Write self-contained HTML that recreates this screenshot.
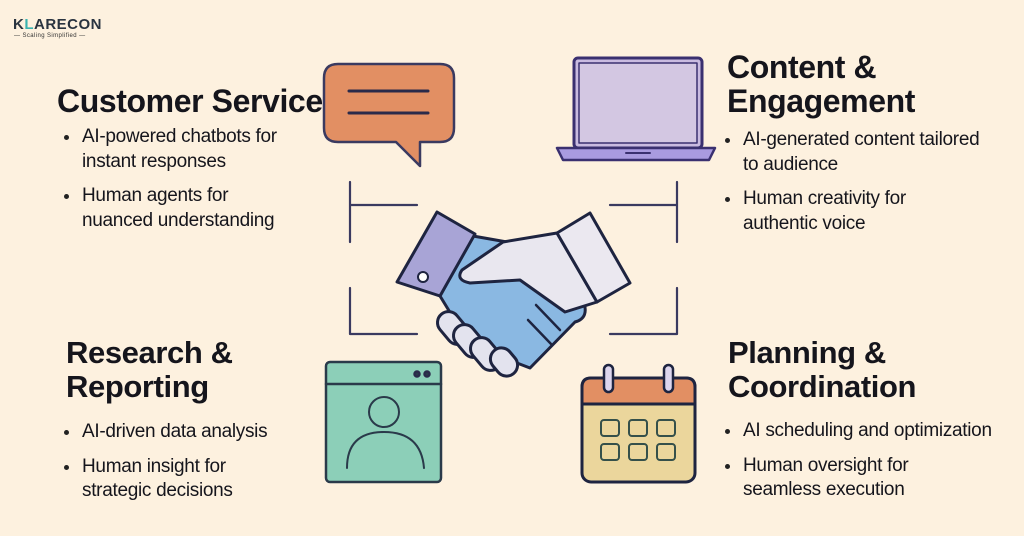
<!DOCTYPE html>
<html><head><meta charset="utf-8"><style>
body{margin:0;width:1024px;height:536px;background:#fdf1df;overflow:hidden;position:relative;font-family:"Liberation Sans",sans-serif;color:#15151c}
.h{position:absolute;font-size:31px;font-weight:bold;letter-spacing:-0.4px;line-height:34px;white-space:nowrap}
.b{position:absolute;font-size:19px;line-height:24.5px;letter-spacing:-0.3px;white-space:nowrap}
.b div{position:relative;padding-left:19px;margin-bottom:10px}
.b div:before{content:"";position:absolute;left:1px;top:10px;width:5px;height:5px;border-radius:50%;background:#222}
</style></head><body>
<div style="position:absolute;left:13px;top:16px;font-size:15px;font-weight:bold;color:#2a3440;letter-spacing:0.5px">K<span style="color:#39b3b0">L</span>ARECON</div>
<div style="position:absolute;left:14px;top:33px;font-size:6px;color:#333;letter-spacing:0.4px">— Scaling Simplified —</div>

<div class="h" style="left:57px;top:84px;font-size:32px">Customer Service</div>
<div class="b" style="left:63px;top:125px"><div>AI-powered chatbots for<br>instant responses</div><div>Human agents for<br>nuanced understanding</div></div>

<div class="h" style="left:727px;top:50px;font-size:32px">Content &amp;<br>Engagement</div>
<div class="b" style="left:724px;top:128px"><div>AI-generated content tailored<br>to audience</div><div>Human creativity for<br>authentic voice</div></div>

<div class="h" style="left:66px;top:336px">Research &amp;<br>Reporting</div>
<div class="b" style="left:63px;top:420px"><div>AI-driven data analysis</div><div>Human insight for<br>strategic decisions</div></div>

<div class="h" style="left:728px;top:336px">Planning &amp;<br>Coordination</div>
<div class="b" style="left:724px;top:419px"><div>AI scheduling and optimization</div><div>Human oversight for<br>seamless execution</div></div>

<svg width="1024" height="536" style="position:absolute;left:0;top:0" fill="none" stroke="#2a2a4a" stroke-width="2.5" stroke-linejoin="round" stroke-linecap="round">
<g stroke="#3a3a60" stroke-width="2.2">
<path d="M350 182V242M350 205H417"/><path d="M350 288V334H417"/>
<path d="M677 182V242M677 205H610"/><path d="M677 288V334H610"/>
</g>
<path d="M338 64H440Q454 64 454 78V128Q454 142 440 142H420V166L396 142H338Q324 142 324 128V78Q324 64 338 64Z" fill="#e28f63" stroke="#3a3a60"/>
<path d="M349 91H428M349 113H428" stroke-width="3"/>
<rect x="574" y="58" width="128" height="90" rx="4" fill="#c9bbe0" stroke="#3a3070" stroke-width="3"/>
<rect x="579" y="63" width="118" height="80" fill="#d3c7e2" stroke="#3a3070" stroke-width="1.5"/>
<path d="M557 148H715L709 160H563Z" fill="#a99be0" stroke="#3a3070" stroke-width="2.5"/>
<path d="M626 153H650" stroke="#3a3070" stroke-width="2"/>
<rect x="326" y="362" width="115" height="120" rx="4" fill="#8ccfb8" stroke="#2a3a4a"/>
<path d="M326 384H441" stroke="#2a3a4a"/>
<circle cx="417" cy="374" r="2.5" fill="#2a3a4a"/><circle cx="427" cy="374" r="2.5" fill="#2a3a4a"/>
<circle cx="384" cy="412" r="15" stroke="#2a3a4a" stroke-width="2"/>
<path d="M347 468Q347 432 384 432Q421 432 424 468" stroke="#2a3a4a" stroke-width="2"/>
<rect x="582" y="378" width="113" height="104" rx="9" fill="#ebd69c" stroke="#1e2440" stroke-width="3"/>
<path d="M591 378H686Q695 378 695 387V404H582V387Q582 378 591 378Z" fill="#e28f63" stroke="#1e2440" stroke-width="3"/>
<rect x="604" y="365" width="9" height="27" rx="4.5" fill="#ddd6ee" stroke="#1e2440"/>
<rect x="664" y="365" width="9" height="27" rx="4.5" fill="#ddd6ee" stroke="#1e2440"/>
<g stroke="#35504a" stroke-width="2">
<rect x="601" y="420" width="18" height="16" rx="3"/><rect x="629" y="420" width="18" height="16" rx="3"/><rect x="657" y="420" width="18" height="16" rx="3"/>
<rect x="601" y="444" width="18" height="16" rx="3"/><rect x="629" y="444" width="18" height="16" rx="3"/><rect x="657" y="444" width="18" height="16" rx="3"/>
</g>
<g stroke="#1e2440" stroke-width="3">
<path d="M473 236L507 242L560 250L583 300Q590 318 575 322L530 368L470 345L440 296Z" fill="#8ab8e2"/>
<path d="M503 242L557 233L597 302L565 312L520 280L470 283Q455 280 462 270Z" fill="#e9e7ef"/>
<path d="M437 212L475 234L440 296L397 282Z" fill="#a8a4d6"/>
<path d="M557 233L590 213L630 283L597 302Z" fill="#ebe8f0"/>
<circle cx="423" cy="277" r="5" fill="#fff" stroke-width="2"/>
<rect x="442" y="310" width="22" height="36" rx="11" transform="rotate(-40 453 328)" fill="#e3e3ee"/>
<rect x="458" y="323" width="22" height="36" rx="11" transform="rotate(-40 469 341)" fill="#e3e3ee"/>
<rect x="475" y="336" width="22" height="36" rx="11" transform="rotate(-40 486 354)" fill="#e3e3ee"/>
<rect x="493" y="347" width="22" height="30" rx="11" transform="rotate(-40 504 362)" fill="#e3e3ee"/>
<path d="M536 305L560 330M528 320L552 345" stroke-width="2.5"/>
</g>
</svg>
</body></html>
